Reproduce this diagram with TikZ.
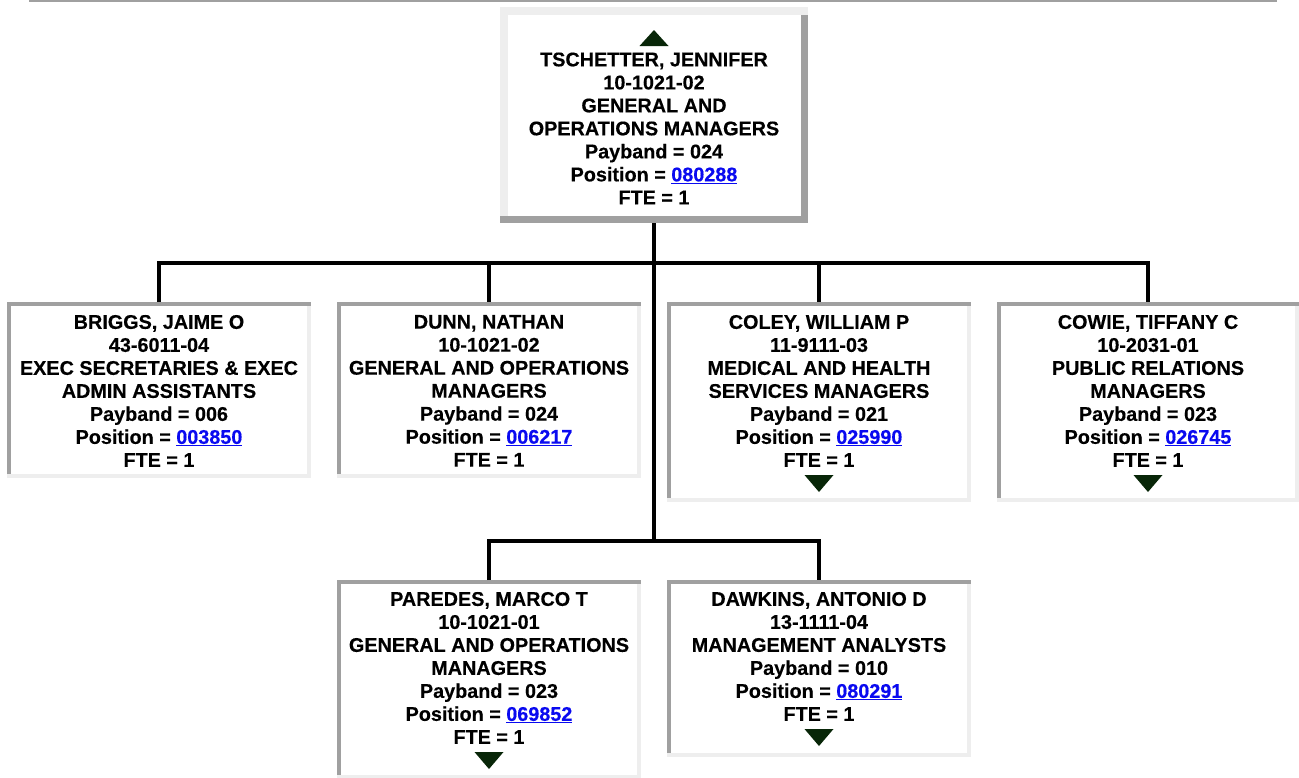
\documentclass[tikz,border=0pt]{standalone}
\usepackage{fontspec}
\setmainfont{Liberation Sans}[BoldFeatures={FakeBold=0.35}]
\usetikzlibrary{calc}
\definecolor{bdark}{RGB}{160,160,160}
\definecolor{blight}{RGB}{238,238,238}
\definecolor{tricol}{RGB}{8,38,8}
\definecolor{linkblue}{RGB}{10,10,240}
\newcommand\poslink[1]{\textcolor{linkblue}{\underline{#1}}}
% name, x, y, w, h : inset box, dark top/left, light bottom/right
\newcommand\insetbox[5]{%
  \node[boxbase, minimum width=#4pt, minimum height=#5pt, anchor=north west] (#1) at (#2,#3) {};
  \fill[bdark] (#1.north west) rectangle ([shift={(4,0)}]#1.south west);
  \fill[blight] (#1.north east) rectangle ([shift={(-4,0)}]#1.south east);
  \fill[blight] (#1.south west) rectangle ([shift={(0,-4)}]#1.south east);
  \fill[bdark] (#1.north west) rectangle ([shift={(0,4)}]#1.north east);
}
\newcommand\downtri[2]{\fill[tricol] (#1-14.5,#2) -- (#1+14.5,#2) -- (#1,#2+17) -- cycle;}
\tikzset{
  boxbase/.style={rectangle, fill=white, draw=none, inner sep=0pt, outer sep=0pt},
  txt/.style={align=center, inner sep=0pt, outer sep=0pt, text=black,
    font=\fontsize{19.8pt}{23pt}\selectfont\bfseries},
  conn/.style={draw=black, line width=4pt, line join=miter},
}
\begin{document}
\begin{tikzpicture}[x=1pt, y=-1pt]
\useasboundingbox (0,0) rectangle (1299,777);
% top rule
\fill[bdark] (29,0) rectangle (1277,2);

% top box (outset)
\node[boxbase, minimum width=308pt, minimum height=216pt, anchor=north west] (top) at (500,7) {};
\fill[blight] (top.north west) rectangle ([shift={(7.5,0)}]top.south west);
\fill[bdark] (top.north east) rectangle ([shift={(-7.5,0)}]top.south east);
\fill[blight] (top.north west) rectangle ([shift={(0,7.5)}]top.north east);
\fill[bdark] (top.south west) rectangle ([shift={(0,-7.5)}]top.south east);
\fill[tricol] (639.5,46) -- (668.5,46) -- (654,30) -- cycle;
\node[txt, anchor=north] (topt) at ([yshift=-45.5pt]top.north) {TSCHETTER, JENNIFER\\10-1021-02\\GENERAL AND\\OPERATIONS MANAGERS\\Payband = 024\\Position = \poslink{080288}\\FTE = 1};

% row 1
\insetbox{b1}{7}{302}{304}{176}
\node[txt, anchor=north] (b1t) at ([yshift=-13pt]b1.north) {BRIGGS, JAIME O\\43-6011-04\\EXEC SECRETARIES \& EXEC\\ADMIN ASSISTANTS\\Payband = 006\\Position = \poslink{003850}\\FTE = 1};

\insetbox{b2}{337}{302}{304}{176}
\node[txt, anchor=north] (b2t) at ([yshift=-13pt]b2.north) {DUNN, NATHAN\\10-1021-02\\GENERAL AND OPERATIONS\\MANAGERS\\Payband = 024\\Position = \poslink{006217}\\FTE = 1};

\insetbox{b3}{667}{302}{304}{200}
\node[txt, anchor=north] (b3t) at ([yshift=-13pt]b3.north) {COLEY, WILLIAM P\\11-9111-03\\MEDICAL AND HEALTH\\SERVICES MANAGERS\\Payband = 021\\Position = \poslink{025990}\\FTE = 1};
\downtri{819}{475}

\insetbox{b4}{997}{302}{302}{200}
\node[txt, anchor=north] (b4t) at ([yshift=-13pt]b4.north) {COWIE, TIFFANY C\\10-2031-01\\PUBLIC RELATIONS\\MANAGERS\\Payband = 023\\Position = \poslink{026745}\\FTE = 1};
\downtri{1148}{475}

% row 2
\insetbox{b5}{337}{580}{304}{199}
\node[txt, anchor=north] (b5t) at ([yshift=-12pt]b5.north) {PAREDES, MARCO T\\10-1021-01\\GENERAL AND OPERATIONS\\MANAGERS\\Payband = 023\\Position = \poslink{069852}\\FTE = 1};
\downtri{489}{752}

\insetbox{b6}{667}{580}{304}{177}
\node[txt, anchor=north] (b6t) at ([yshift=-12pt]b6.north) {DAWKINS, ANTONIO D\\13-1111-04\\MANAGEMENT ANALYSTS\\Payband = 010\\Position = \poslink{080291}\\FTE = 1};
\downtri{819}{729}

% connectors
\coordinate (j1) at (654,263);
\coordinate (j2) at (654,541);
\draw[conn] (top.south) -- (j1) -- (j2);
\draw[conn] (b1.north) |- (j1) -| (b4.north);
\draw[conn] (j1 -| b2.north) -- (b2.north);
\draw[conn] (j1 -| b3.north) -- (b3.north);
\draw[conn] (b5.north) |- (j2) -| (b6.north);
\end{tikzpicture}
\end{document}
